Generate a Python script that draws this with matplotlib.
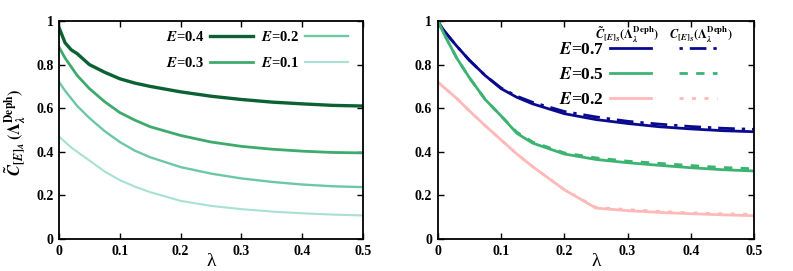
import matplotlib
matplotlib.use("Agg")
import matplotlib.pyplot as plt

plt.rcParams['font.family'] = ['Liberation Serif', 'DejaVu Serif']
plt.rcParams['mathtext.fontset'] = 'stix'
plt.rcParams['font.weight'] = 'bold'

lam = [0, 0.01, 0.02, 0.03, 0.05, 0.075, 0.1, 0.125, 0.15, 0.2, 0.25, 0.3, 0.35, 0.4, 0.45, 0.5]

# Left panel
left_E04 = [0.97, 0.90, 0.868, 0.85, 0.80, 0.765, 0.735, 0.715, 0.70, 0.675, 0.655, 0.64, 0.628, 0.62, 0.613, 0.61]
left_E03 = [0.88, 0.83, 0.79, 0.75, 0.69, 0.63, 0.58, 0.545, 0.515, 0.475, 0.445, 0.425, 0.412, 0.403, 0.397, 0.395]
left_E02 = [0.72, 0.68, 0.645, 0.61, 0.555, 0.495, 0.445, 0.405, 0.375, 0.33, 0.30, 0.278, 0.262, 0.25, 0.242, 0.238]
left_E01 = [0.47, 0.445, 0.42, 0.40, 0.36, 0.31, 0.27, 0.24, 0.215, 0.175, 0.152, 0.137, 0.126, 0.118, 0.112, 0.108]
left_labels = ["0.4", "0.3", "0.2", "0.1"]

# Right panel
right_E07_t = [1.0, 0.955, 0.92, 0.885, 0.82, 0.75, 0.69, 0.65, 0.62, 0.575, 0.548, 0.53, 0.515, 0.505, 0.497, 0.492]
right_E07_c = [1.0, 0.955, 0.92, 0.885, 0.82, 0.75, 0.693, 0.655, 0.627, 0.585, 0.56, 0.54, 0.527, 0.516, 0.508, 0.503]
right_E05_t = [1.0, 0.94, 0.885, 0.83, 0.74, 0.64, 0.565, 0.485, 0.44, 0.39, 0.365, 0.35, 0.338, 0.327, 0.318, 0.312]
right_E05_c = [1.0, 0.94, 0.885, 0.83, 0.74, 0.64, 0.565, 0.49, 0.445, 0.395, 0.372, 0.357, 0.347, 0.337, 0.328, 0.322]
right_E02_t = [0.72, 0.695, 0.67, 0.645, 0.588, 0.52, 0.455, 0.39, 0.332, 0.226, 0.142, 0.13, 0.122, 0.116, 0.111, 0.107]
right_E02_c = [0.72, 0.695, 0.67, 0.645, 0.588, 0.52, 0.455, 0.39, 0.332, 0.226, 0.145, 0.135, 0.127, 0.12, 0.116, 0.113]
right_labels = ["0.7", "0.5", "0.2"]

xticks = [0, 0.1, 0.2, 0.3, 0.4, 0.5]
xticklabels = ["0", "0.1", "0.2", "0.3", "0.4", "0.5"]
yticks = [0, 0.2, 0.4, 0.6, 0.8, 1.0]
yticklabels = ["0", "0.2", "0.4", "0.6", "0.8", "1"]

fig = plt.figure(figsize=(7.93, 2.71), dpi=100)
axL = fig.add_axes([0.0744, 0.118, 0.3834, 0.8045])
axR = fig.add_axes([0.552, 0.118, 0.399, 0.8045])

for ax in (axL, axR):
    ax.set_xlim(0, 0.5)
    ax.set_ylim(0, 1)
    ax.set_xticks(xticks)
    ax.set_xticklabels(xticklabels)
    ax.set_yticks(yticks)
    ax.set_yticklabels(yticklabels)
    ax.tick_params(direction='in', top=True, right=True, length=4, width=1,
                   labelsize=10, pad=4)
    for lab in ax.get_xticklabels() + ax.get_yticklabels():
        lab.set_fontweight('bold')
    for s in ax.spines.values():
        s.set_linewidth(1.3)
    ax.set_xlabel("λ", fontsize=14, fontweight='normal', labelpad=-3)

c04, c03, c02, c01 = '#0b6132', '#3eaa6c', '#6cc7a5', '#a6e1d1'
l1, = axL.plot(lam, left_E04, color=c04, lw=2.4)
l2, = axL.plot(lam, left_E03, color=c03, lw=2.0)
l3, = axL.plot(lam, left_E02, color=c02, lw=1.7)
l4, = axL.plot(lam, left_E01, color=c01, lw=1.5)
axL.set_ylabel(r"$\tilde{C}_{[E]_A}\,(\Lambda_\lambda^{\mathsf{Deph}})$", fontsize=12)
axL.yaxis.set_label_coords(-0.102, 0.49)
axL.legend([l1, l2, l3, l4],
           [r"$\mathbfit{E}$=" + s for s in left_labels],
           ncol=2, markerfirst=False, frameon=False, loc='center right',
           bbox_to_anchor=(0.951, 0.867), prop={'size': 10.5, 'weight': 'bold'},
           handlelength=2.95, columnspacing=0.55, labelspacing=0.85, handletextpad=0.4,
           borderaxespad=0.0, borderpad=0.0)

cb, cg, cp = '#0a0a8f', '#3cb371', '#ffb9b9'
t1, = axR.plot(lam, right_E07_t, color=cb, lw=2.0)
d1, = axR.plot(lam, right_E07_c, color=cb, lw=2.0, ls=(0, (1.2, 2.5, 6, 2.5)))
t2, = axR.plot(lam, right_E05_t, color=cg, lw=2.0)
d2, = axR.plot(lam, right_E05_c, color=cg, lw=2.0, ls=(0, (3, 3)))
t3, = axR.plot(lam, right_E02_t, color=cp, lw=2.0)
d3, = axR.plot(lam, right_E02_c, color=cp, lw=2.0, ls=(0, (1.5, 3)))

legA = axR.legend([t1, t2, t3], [r"$\mathbfit{E}$=" + s for s in right_labels],
                  markerfirst=False, frameon=False, loc='center left',
                  bbox_to_anchor=(0.383, 0.752), prop={'size': 12.5, 'weight': 'bold'},
                  handlelength=2.36, labelspacing=0.5, handletextpad=0.35,
                  borderaxespad=0.0, borderpad=0.0)
axR.add_artist(legA)
axR.legend([d1, d2, d3], ["", "", ""],
           markerfirst=True, frameon=False, loc='center left',
           bbox_to_anchor=(0.763, 0.752), prop={'size': 12.5, 'weight': 'bold'},
           handlelength=2.2, labelspacing=0.5, handletextpad=0.0,
           borderaxespad=0.0, borderpad=0.0)
axR.text(0.598, 0.936, r"$\tilde{C}_{[E]_S}(\Lambda_\lambda^{\mathsf{Deph}})$", transform=axR.transAxes,
         fontsize=9, ha='center', va='center')
axR.text(0.832, 0.936, r"$C_{[E]_S}(\Lambda_\lambda^{\mathsf{Deph}})$", transform=axR.transAxes,
         fontsize=9, ha='center', va='center')

fig.savefig("out.png", dpi=100)
